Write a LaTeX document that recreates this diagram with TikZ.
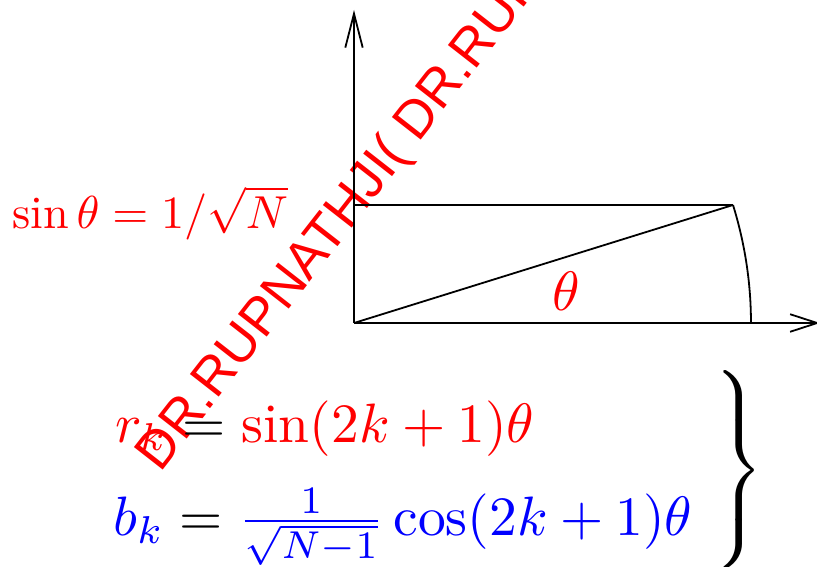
\RequirePackage{fix-cm}
\documentclass[tikz,border=0pt]{standalone}
\usepackage{graphicx}
\usepackage{exscale}
\usepackage{fontspec}
\newfontfamily\wmfont{Liberation Sans}
\usetikzlibrary{arrows.meta}
\newcommand\scaleBig[1]{\scalebox{5.55}{#1}}
\newcommand\scaleSmall[1]{\scalebox{4.62}{#1}}
\begin{document}
\begin{tikzpicture}[x=1pt,y=-1pt,
  ax/.style={line width=1.8pt, black},
  wm/.style={anchor=base west, rotate=52, text=red, inner sep=0pt,
             font=\wmfont\fontsize{53.2}{60}\selectfont},
  eqn/.style={inner sep=0pt}]
\useasboundingbox (0,0) rectangle (817,567);
% watermark
\node[wm] (wm) at (160.4,473.3) {DR.RUPNATHJI( DR.RUPNATHJI( DR.RUPNATHJI(};
% geometry
\coordinate (O) at (354,323);
\coordinate (Y) at (354,10);
\coordinate (X) at (820,323);
\coordinate (Q) at (354,205);
\coordinate (P) at (733,205);
\draw[ax, -{Straight Barb[length=34pt,width=17.4pt]}] (O) -- (Y);
\draw[ax, -{Straight Barb[length=27pt,width=17.6pt]}] (O) -- (X);
\draw[ax] (Q) -- (P);
\draw[ax] (O) -- (P);
\draw[ax] (P) arc[start angle=17.295, end angle=0, radius=396.94pt];
% labels
\node[eqn, anchor=base west, text=red] (sinlab) at (12,229) {\scaleSmall{$\sin\theta = 1/\sqrt{N}$}};
\node[eqn, anchor=base west, text=red] (theta) at (552,310) {\scaleBig{$\theta$}};
\node[eqn, anchor=base west] (eqr) at (115,442) {\scaleBig{${\color{red}r_k} = {\color{red}\sin(2k+1)\theta}$}};
\node[eqn, anchor=base west] (eqb) at (113,535) {\scaleBig{${\color{blue}b_k} = {\color{blue}\frac{1}{\sqrt{N-1}}\cos(2k+1)\theta}$}};
\node[eqn, anchor=east] (brace) at (764,470) {\scaleBig{$\left.\vrule height 21.9pt depth 16.9pt width 0pt\right\}$}};
\end{tikzpicture}
\end{document}
